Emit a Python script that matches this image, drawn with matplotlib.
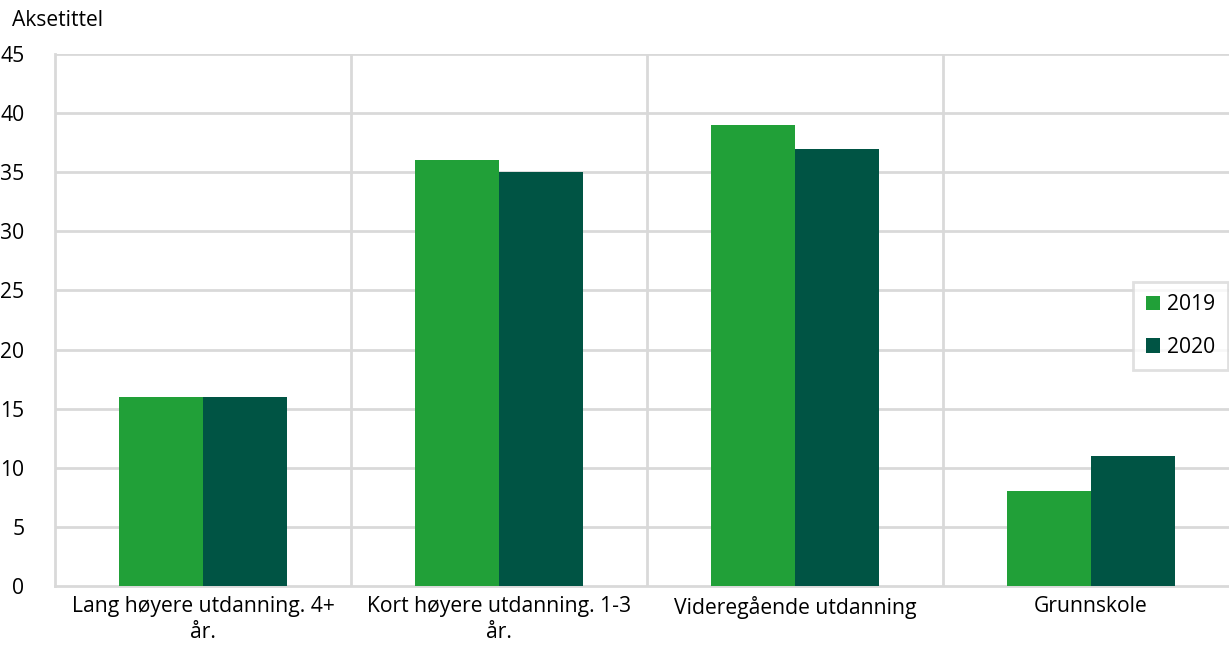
import numpy as np
import matplotlib.pyplot as plt

plt.rcParams['font.family'] = ['Open Sans', 'DejaVu Sans']

categories = ["Lang høyere utdanning. 4+\når.", "Kort høyere utdanning. 1-3\når.",
              "Videregående utdanning", "Grunnskole"]
v2019 = [16, 36, 39, 8]
v2020 = [16, 35, 37, 11]
yticks = [0, 5, 10, 15, 20, 25, 30, 35, 40, 45]

c2019 = '#21a038'
c2020 = '#005444'
grid = '#d9d9d9'

fig = plt.figure(figsize=(12.29, 6.46), dpi=100)
ax = fig.add_axes([55 / 1229, 60 / 646, 1184 / 1229, 532 / 646])

x = np.arange(len(categories))
w = 0.285
ax.bar(x - w / 2, v2019, w, color=c2019, label='2019', zorder=3)
ax.bar(x + w / 2, v2020, w, color=c2020, label='2020', zorder=3)

ax.set_xlim(-0.5, len(categories) - 0.5)
ax.set_ylim(0, 45)
ax.set_yticks(yticks)
ax.set_xticks(x)
ax.set_xticklabels(categories, fontsize=15.2, linespacing=1.3)
ax.tick_params(axis='y', length=0, pad=22, labelsize=15.2)
ax.tick_params(axis='x', length=0, pad=7)
for lab in ax.get_yticklabels():
    lab.set_horizontalalignment('right')

for yv in yticks[1:]:
    ax.axhline(yv, color=grid, lw=2, zorder=1)
for xv in np.arange(0.5, len(categories) - 0.5, 1):
    ax.axvline(xv, color=grid, lw=2, zorder=1)

for s in ['top', 'right']:
    ax.spines[s].set_visible(False)
ax.spines['left'].set_color(grid)
ax.spines['left'].set_linewidth(2)
ax.spines['bottom'].set_color(grid)
ax.spines['bottom'].set_linewidth(2)

fig.text(12 / 1229, 1 - 20 / 646, 'Aksetittel', fontsize=15.2, va='center', ha='left')

leg = fig.legend(loc='center left', bbox_to_anchor=(1133 / 1229, 1 - 326 / 646),
                 fontsize=15.2, frameon=True, fancybox=False, handlelength=0.7,
                 handleheight=0.7, handletextpad=0.3, labelspacing=1.0,
                 borderpad=0.6, borderaxespad=0)
leg.get_frame().set_edgecolor(grid)
leg.get_frame().set_linewidth(2)

fig.savefig('out.png', dpi=100)
